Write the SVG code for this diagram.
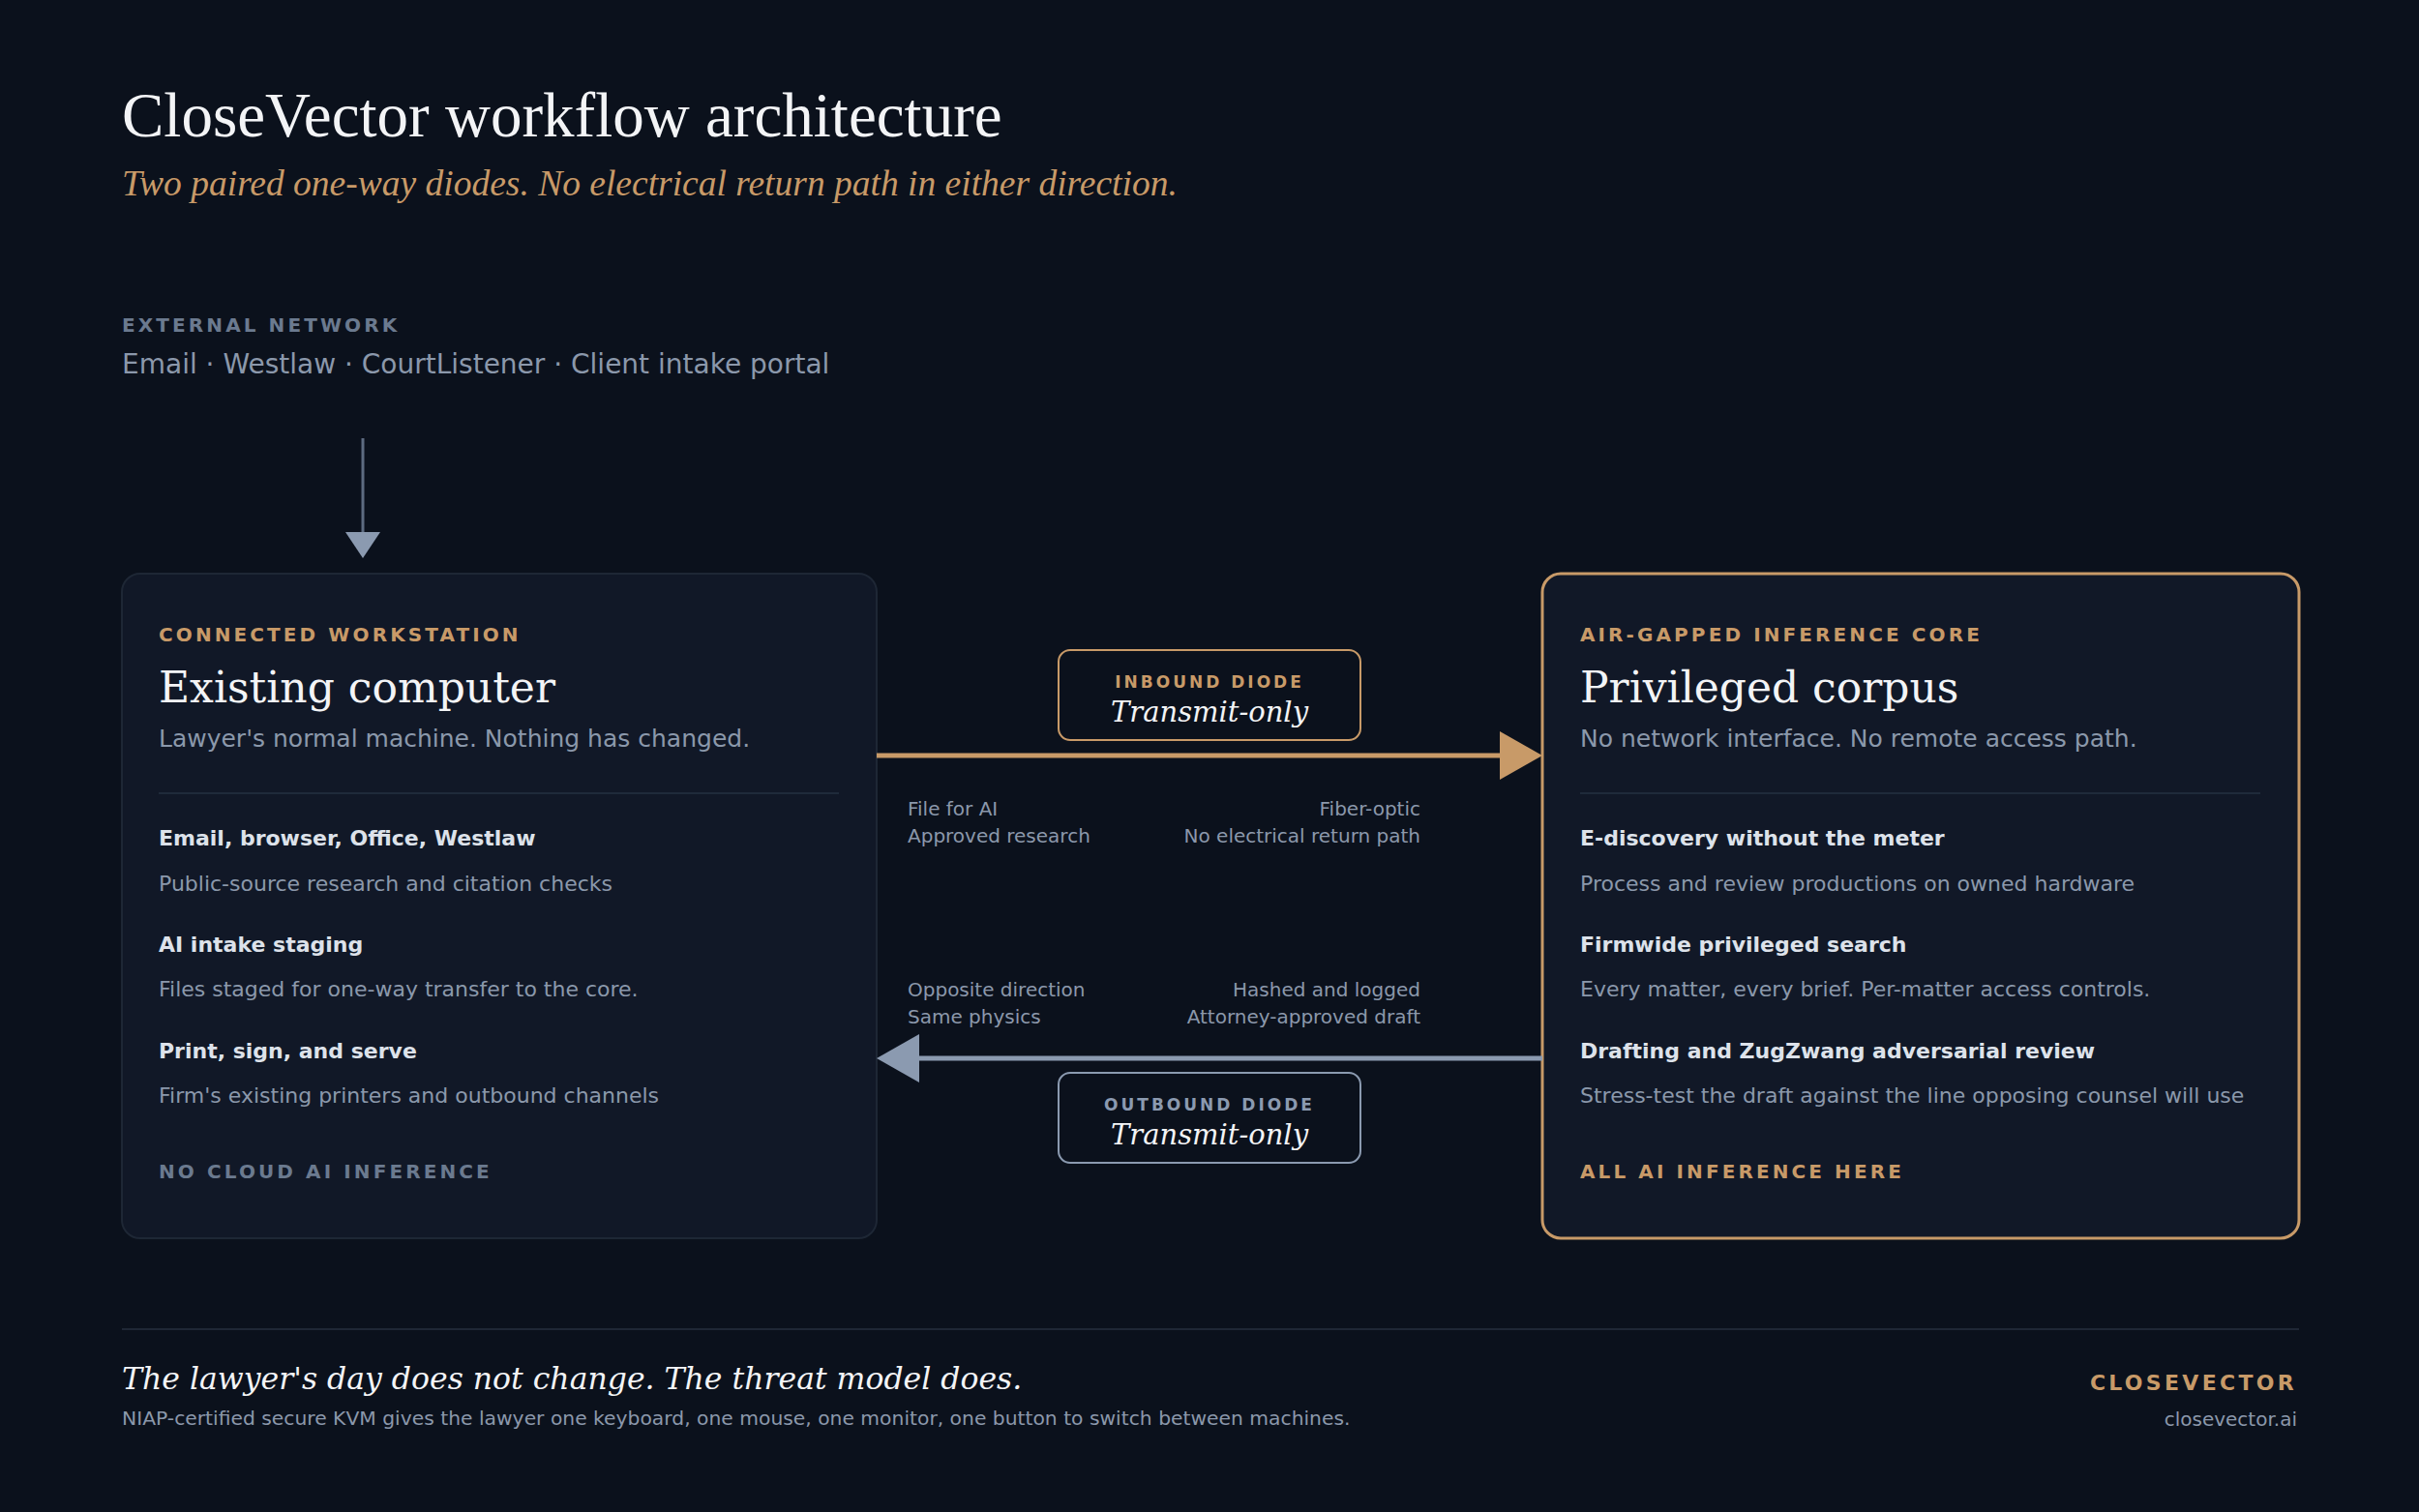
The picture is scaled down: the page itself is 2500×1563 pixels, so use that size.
<svg xmlns="http://www.w3.org/2000/svg" width="2500" height="1563" viewBox="0 0 2500 1563">
<style>
.sans{font-family:"DejaVu Sans","Liberation Sans",sans-serif}
.serif{font-family:"DejaVu Serif","Liberation Serif",serif}
.cap{font-family:"DejaVu Sans",sans-serif;font-weight:bold;font-size:20px;letter-spacing:3.1px}
.gold{fill:#c89a68}
.mute{fill:#6b7a8f}
.h{font-family:"DejaVu Serif",serif;font-size:44px;fill:#f3f4f6}
.lead{font-family:"DejaVu Sans",sans-serif;font-size:25px;fill:#8b98ab}
.it{font-family:"DejaVu Sans",sans-serif;font-weight:bold;font-size:22px;fill:#dde2ea}
.ds{font-family:"DejaVu Sans",sans-serif;font-size:22px;fill:#8b98ab}
.note{font-family:"DejaVu Sans",sans-serif;font-size:20px;fill:#8b98ab}
</style>
<rect width="2500" height="1563" fill="#0b111c"/>
<text x="126" y="141" font-family="Liberation Serif,serif" font-size="65" fill="#f3f4f6">CloseVector workflow architecture</text>
<text x="126" y="202" font-family="Liberation Serif,serif" font-style="italic" font-size="37.5" fill="#c89a68">Two paired one-way diodes. No electrical return path in either direction.</text>
<g id="external">
<text x="126" y="343" class="cap mute" font-size="21" letter-spacing="4.3">EXTERNAL NETWORK</text>
<text x="126" y="386" class="sans" font-size="28" fill="#8b98ab">Email · Westlaw · CourtListener · Client intake portal</text>
</g>
<g id="workstation">
<rect x="126" y="593" width="780" height="687" rx="19" fill="#111827" stroke="#1e2735" stroke-width="2"/>
<text x="164" y="663" class="cap gold">CONNECTED WORKSTATION</text>
<text x="164" y="726" class="h">Existing computer</text>
<text x="164" y="772" class="lead">Lawyer's normal machine. Nothing has changed.</text>
<line x1="164" y1="820" x2="867" y2="820" stroke="#1f2a3a" stroke-width="2"/>
<text x="164" y="874" class="it">Email, browser, Office, Westlaw</text>
<text x="164" y="921" class="ds">Public-source research and citation checks</text>
<text x="164" y="984" class="it">AI intake staging</text>
<text x="164" y="1030" class="ds">Files staged for one-way transfer to the core.</text>
<text x="164" y="1094" class="it">Print, sign, and serve</text>
<text x="164" y="1140" class="ds">Firm's existing printers and outbound channels</text>
<text x="164" y="1218" class="cap mute">NO CLOUD AI INFERENCE</text>
</g>
<g id="core">
<rect x="1594" y="593" width="782" height="687" rx="19" fill="#111827" stroke="#c89a68" stroke-width="3"/>
<text x="1633" y="663" class="cap gold">AIR-GAPPED INFERENCE CORE</text>
<text x="1633" y="726" class="h">Privileged corpus</text>
<text x="1633" y="772" class="lead">No network interface. No remote access path.</text>
<line x1="1633" y1="820" x2="2336" y2="820" stroke="#1f2a3a" stroke-width="2"/>
<text x="1633" y="874" class="it">E-discovery without the meter</text>
<text x="1633" y="921" class="ds">Process and review productions on owned hardware</text>
<text x="1633" y="984" class="it">Firmwide privileged search</text>
<text x="1633" y="1030" class="ds">Every matter, every brief. Per-matter access controls.</text>
<text x="1633" y="1094" class="it">Drafting and ZugZwang adversarial review</text>
<text x="1633" y="1140" class="ds">Stress-test the draft against the line opposing counsel will use</text>
<text x="1633" y="1218" class="cap gold">ALL AI INFERENCE HERE</text>
</g>
<g id="connectors">
<line x1="375" y1="453" x2="375" y2="552" stroke="#5d6b80" stroke-width="3"/>
<polygon points="357,550 393,550 375,577" fill="#8b9ab0"/>
<line x1="906" y1="781" x2="1552" y2="781" stroke="#c89a68" stroke-width="5"/>
<polygon points="1550,756 1594,781 1550,806" fill="#c89a68"/>
<line x1="948" y1="1094" x2="1594" y2="1094" stroke="#8b9ab0" stroke-width="5"/>
<polygon points="950,1069 906,1094 950,1119" fill="#8b9ab0"/>
<g id="inbound-label">
<rect x="1094" y="672" width="312" height="93" rx="12" fill="#0b111c" stroke="#c89a68" stroke-width="2"/>
<text x="1250" y="711" text-anchor="middle" class="sans gold" font-weight="bold" font-size="17" letter-spacing="3">INBOUND DIODE</text>
<text x="1250" y="746" text-anchor="middle" class="serif" font-style="italic" font-size="29" fill="#f3f4f6">Transmit-only</text>
</g>
<g id="outbound-label">
<rect x="1094" y="1109" width="312" height="93" rx="12" fill="#0b111c" stroke="#8b9ab0" stroke-width="2"/>
<text x="1250" y="1148" text-anchor="middle" class="sans" font-weight="bold" font-size="17" letter-spacing="3" fill="#8b9ab0">OUTBOUND DIODE</text>
<text x="1250" y="1183" text-anchor="middle" class="serif" font-style="italic" font-size="29" fill="#f3f4f6">Transmit-only</text>
</g>
<text x="938" y="843" class="note">File for AI</text>
<text x="938" y="871" class="note">Approved research</text>
<text x="1468" y="843" text-anchor="end" class="note">Fiber-optic</text>
<text x="1468" y="871" text-anchor="end" class="note">No electrical return path</text>
<text x="938" y="1030" class="note">Opposite direction</text>
<text x="938" y="1058" class="note">Same physics</text>
<text x="1468" y="1030" text-anchor="end" class="note">Hashed and logged</text>
<text x="1468" y="1058" text-anchor="end" class="note">Attorney-approved draft</text>
</g>
<g id="footer">
<line x1="126" y1="1374" x2="2376" y2="1374" stroke="#1f2735" stroke-width="2"/>
<text x="126" y="1436" class="serif" font-style="italic" font-size="31.5" fill="#f3f4f6">The lawyer's day does not change. The threat model does.</text>
<text x="126" y="1473" class="sans" font-size="20.3" fill="#8b98ab">NIAP-certified secure KVM gives the lawyer one keyboard, one mouse, one monitor, one button to switch between machines.</text>
<text x="2374" y="1437" text-anchor="end" class="sans gold" font-weight="bold" font-size="22" letter-spacing="3.3">CLOSEVECTOR</text>
<text x="2374" y="1474" text-anchor="end" class="sans" font-size="20" fill="#8b98ab">closevector.ai</text>
</g>
</svg>
